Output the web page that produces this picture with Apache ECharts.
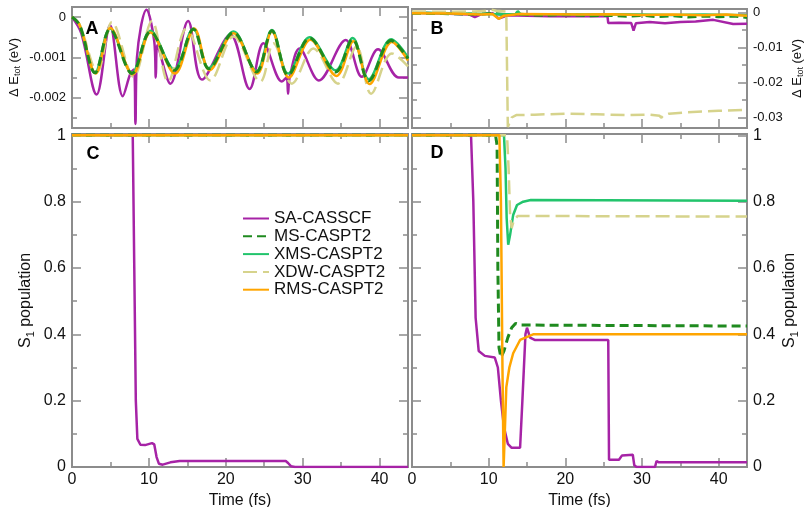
<!DOCTYPE html>
<html lang="en">
<head>
<meta charset="UTF-8">
<title>S1 population</title>
<script src="https://cdn.jsdelivr.net/npm/echarts@6/dist/echarts.min.js"></script>
<style>
    html, body { margin: 0; padding: 0; background: #fff; }
    #main { width: 804px; height: 507px; }
</style>
</head>
<body>
<div id="main"></div>
<script>
// methods, in legend order
var methods = ['SA-CASSCF', 'MS-CASPT2', 'XMS-CASPT2', 'XDW-CASPT2', 'RMS-CASPT2'];

// ticks
var tMax = 43.7;
var timeTicks = [0, 10, 20, 30, 40];
var timeMinor = [5, 15, 25, 35];
var eTicksA = [0, -0.001, -0.002];
var eMinorA = [-0.0005, -0.0015, -0.0025];
var eTicksB = [0, -0.01, -0.02, -0.03];
var eMinorB = [-0.005, -0.015, -0.025];
var popTicks = [0, 0.2, 0.4, 0.6, 0.8, 1];
var popMinor = [0.1, 0.3, 0.5, 0.7, 0.9];

// A: energy deviation (eV) vs time (fs)
var saA = [[0,0],[1.2,-0.0004],[3.2,-0.00192],[4.95,-0.0002],[6.6,-0.00196],[7.6,-0.0014],[8.05,-0.0013],[8.25,-0.00265],[8.45,-0.001],[9.7,0.00018],[10.7,-0.0006],[10.9,-0.0015],[11.1,-0.0007],[12.8,-0.00165],[15.1,-0.0001],[16.9,-0.00155],[20.6,-0.00044],[23.1,-0.00178],[24.9,-0.00065],[27.3,-0.0016],[27.9,-0.0015],[28.1,-0.0019],[28.3,-0.0015],[29.6,-0.00078],[32.1,-0.00157],[35.6,-0.00057],[37.7,-0.00148],[39.8,-0.0008],[42.5,-0.0015],[43.7,-0.0015]];
var msA = [[0,0],[1.0,-0.0002],[3.0,-0.00138],[4.95,-0.0003],[7.8,-0.0014],[10.2,-0.00036],[13.3,-0.00132],[15.8,-0.0003],[17.8,-0.00128],[21.0,-0.00038],[24.0,-0.00136],[26.0,-0.00034],[28.1,-0.00144],[30.9,-0.00052],[34.3,-0.00136],[36.5,-0.00055],[38.6,-0.00158],[41.5,-0.00058],[43.7,-0.00103]];
var xmsA = [[0,0],[1.0,-0.0002],[3.0,-0.00138],[4.95,-0.00028],[7.8,-0.00138],[10.2,-0.00034],[13.3,-0.0013],[15.8,-0.00028],[17.8,-0.00126],[21.0,-0.00036],[24.0,-0.00134],[26.0,-0.00032],[28.1,-0.0014],[30.9,-0.0005],[34.3,-0.00132],[36.5,-0.00052],[38.6,-0.00154],[41.5,-0.00055],[43.7,-0.001]];
var xdwA = [[0,0],[1.0,-0.0002],[3.3,-0.00135],[5.2,-0.00012],[8.0,-0.00148],[10.4,-0.0001],[12.5,-0.0016],[14.9,-0.00028],[18.0,-0.00157],[21.0,-0.00048],[24.5,-0.0016],[26.2,-0.00065],[28.6,-0.00165],[31.4,-0.00078],[34.6,-0.00165],[37.0,-0.00073],[38.9,-0.0019],[41.6,-0.0009],[43.7,-0.00122]];
var rmsA = [[0,0],[1.0,-0.0002],[3.1,-0.0014],[5.0,-0.00027],[7.9,-0.00142],[10.2,-0.00038],[13.4,-0.0014],[15.9,-0.00028],[17.9,-0.00132],[21.0,-0.0004],[24.1,-0.0014],[26.0,-0.00036],[28.2,-0.0015],[31.0,-0.00056],[34.4,-0.00146],[36.6,-0.0006],[38.7,-0.00166],[41.6,-0.00062],[43.7,-0.00108]];

// B
var saB = [[0,-0.0001],[4,-0.0003],[7.5,-0.0006],[8.2,-0.0013],[9,-0.0005],[10.5,-0.0002],[11.3,-0.0017],[12.5,-0.0008],[15,-0.0009],[18,-0.0011],[21,-0.001],[24,-0.0011],[25.5,-0.0011],[25.6,-0.003],[27,-0.0029],[28.6,-0.003],[28.9,-0.0052],[29.2,-0.0031],[31,-0.0027],[33,-0.0031],[35,-0.0027],[37,-0.0026],[39.3,-0.0021],[41.9,-0.0033],[43.7,-0.0032]];
var msB = [[0,-0.0002],[4,-0.0003],[8,-0.0005],[10.5,-0.0003],[12,-0.0006],[13.6,-0.0005],[13.8,0.0005],[14.1,-0.0005],[17,-0.0008],[20,-0.0006],[23,-0.0009],[26,-0.0008],[28,-0.0011],[30,-0.0008],[32,-0.0012],[34,-0.0009],[36,-0.0013],[38,-0.001],[40,-0.0012],[42,-0.001],[43.7,-0.0014]];
var xmsB = [[0,-0.0001],[5,-0.0002],[10,-0.0004],[12,-0.0005],[13.6,-0.0004],[13.8,0.0004],[14.1,-0.0004],[18,-0.0005],[22,-0.0006],[26,-0.0005],[30,-0.0006],[34,-0.0007],[38,-0.0006],[43.7,-0.0008]];
var xdwB = [[0,0.0003],[5,0.0002],[8,0.0003],[9.5,0.0004],[10.2,0.0009],[11,0.0005],[12.3,0.0003],[12.45,0.0002],[12.5,-0.0327],[13.0,-0.03],[13.6,-0.0293],[16,-0.0292],[20,-0.0289],[24,-0.0291],[28,-0.0293],[31,-0.0292],[32.3,-0.0295],[32.5,-0.0301],[32.8,-0.0294],[33.5,-0.0289],[36,-0.0285],[40,-0.0281],[43.7,-0.0278]];
var rmsB = [[0,-0.0002],[5,-0.0003],[9,-0.0006],[10.5,-0.0004],[11.3,-0.0018],[12,-0.0009],[14,-0.0004],[18,-0.0005],[22,-0.0006],[26,-0.0005],[30,-0.0007],[34,-0.0006],[38,-0.0008],[41,-0.0006],[43.7,-0.0009]];

// C: S1 population
var saC = [[0,1],[7.9,1],[8.1,0.6],[8.3,0.2],[8.5,0.085],[8.9,0.067],[9.5,0.066],[10.4,0.072],[10.7,0.068],[11.0,0.03],[11.3,0.01],[11.8,0.007],[12.8,0.014],[14,0.018],[27.8,0.018],[28.1,0.012],[28.5,0.002],[29,0],[43.7,0]];
var msC = [[0,1],[43.7,1]];
var xmsC = [[0,1],[43.7,1]];
var xdwC = [[0,1],[43.7,1]];
var rmsC = [[0,1],[43.7,1]];

// D
var saD = [[0,1],[7.7,1],[8.0,0.8],[8.3,0.45],[8.7,0.35],[9.5,0.335],[10.8,0.33],[11.2,0.3],[11.6,0.2],[12.0,0.12],[12.5,0.07],[13.0,0.058],[14.1,0.058],[14.4,0.2],[14.8,0.4],[15.0,0.42],[15.4,0.39],[16,0.383],[25.6,0.383],[25.7,0.022],[27.0,0.022],[27.4,0.035],[28.8,0.037],[29.0,0.005],[29.3,0],[31.7,0],[31.9,0.018],[32.2,0.014],[43.7,0.014]];
var msD = [[0,1],[10.9,1],[11.1,0.97],[11.2,0.6],[11.35,0.36],[11.6,0.33],[12.0,0.35],[12.5,0.39],[13.0,0.42],[13.5,0.433],[14.2,0.428],[43.7,0.425]];
var xmsD = [[0,1],[12.0,1],[12.2,0.9],[12.35,0.75],[12.55,0.67],[12.8,0.7],[13.2,0.76],[13.7,0.79],[14.5,0.8],[15.5,0.805],[43.7,0.803]];
var xdwD = [[0,1],[12.4,1],[12.6,0.9],[12.8,0.76],[13.0,0.72],[13.3,0.745],[13.8,0.757],[43.7,0.755]];
var rmsD = [[0,1],[11.4,1],[11.6,0.8],[11.8,0.3],[11.95,0],[12.1,0.1],[12.3,0.24],[12.7,0.3],[13.2,0.343],[14.1,0.383],[15.8,0.4],[43.7,0.4]];

(function () {
    var myChart = echarts.init(document.getElementById('main'), null, {renderer: 'canvas'});
    var gray = '#8c8c8c';
    var ink = '#111';
    var font = '"Liberation Sans", Arial, Helvetica, sans-serif';

    var styles = [
        {color: '#a623a6', width: 2.5, type: 'solid'},
        {color: '#1f8a1f', width: 3, type: [9, 5]},
        {color: '#22c46c', width: 2.5, type: 'solid'},
        {color: '#d6d38c', width: 2.5, type: [14, 6]},
        {color: '#ffa500', width: 2.5, type: 'solid'}
    ];

    var fmtA = function (v) { return v === 0 ? '0' : v.toFixed(3); };
    var fmtB = function (v) { return v === 0 ? '0' : v.toFixed(2); };
    var fmtP = function (v) { return String(+v.toFixed(1)); };

    var eName = {
        name: '{a|\u0394 E}{s|tot}{a| (eV)}',
        nameLocation: 'middle', nameRotate: 90,
        nameTextStyle: {
            color: ink, fontFamily: font,
            rich: {
                a: {fontSize: 13, lineHeight: 16, fontFamily: font, color: ink},
                s: {fontSize: 9, lineHeight: 9, verticalAlign: 'bottom', fontFamily: font, color: ink}
            }
        }
    };
    var pName = {
        name: '{a|S}{s|1}{a| population}',
        nameLocation: 'middle', nameRotate: 90,
        nameTextStyle: {
            color: ink, fontFamily: font,
            rich: {
                a: {fontSize: 16, lineHeight: 20, fontFamily: font, color: ink},
                s: {fontSize: 11, lineHeight: 11, verticalAlign: 'bottom', fontFamily: font, color: ink}
            }
        }
    };
    var tName = {
        name: 'Time (fs)', nameLocation: 'middle', nameGap: 22,
        nameTextStyle: {fontSize: 16, color: ink, fontFamily: font}
    };

    var panels = [
        {box: {left: 72, top: 7, width: 336, height: 121}, yMin: -0.00275, yMax: 0.00025,
         yMajor: eTicksA, yMinor: eMinorA, side: 'left', ylab: {fontSize: 13, margin: 6, formatter: fmtA},
         yname: Object.assign({nameGap: 50}, eName), xlab: null, data: [saA, msA, xmsA, xdwA, rmsA], smooth: 0.35},
        {box: {left: 412, top: 9, width: 335, height: 119}, yMin: -0.033, yMax: 0.001,
         yMajor: eTicksB, yMinor: eMinorB, side: 'right', ylab: {fontSize: 13, margin: 6, formatter: fmtB},
         yname: Object.assign({nameGap: 42}, eName), xlab: null, data: [saB, msB, xmsB, xdwB, rmsB], smooth: false},
        {box: {left: 72, top: 134, width: 336, height: 333}, yMin: 0, yMax: 1.004,
         yMajor: popTicks, yMinor: popMinor, side: 'left', ylab: {fontSize: 16, margin: 6, formatter: fmtP},
         yname: Object.assign({nameGap: 36}, pName), xlab: {fontSize: 16, margin: 5}, data: [saC, msC, xmsC, xdwC, rmsC], smooth: false},
        {box: {left: 412, top: 134, width: 335, height: 333}, yMin: 0, yMax: 1.004,
         yMajor: popTicks, yMinor: popMinor, side: 'right', ylab: {fontSize: 16, margin: 6, formatter: fmtP},
         yname: Object.assign({nameGap: 33}, pName), xlab: {fontSize: 16, margin: 5}, data: [saD, msD, xmsD, xdwD, rmsD], smooth: false}
    ];

    function makeAxis(g, pos, min, max, vals, len, label, name) {
        var ax = {
            type: 'value', gridIndex: g, position: pos, min: min, max: max,
            axisLine: {show: false, onZero: false},
            splitLine: {show: false},
            axisTick: {show: true, inside: true, length: len, customValues: vals, lineStyle: {color: gray, width: 1.5}},
            axisLabel: {show: false}
        };
        if (label) {
            ax.axisLabel = Object.assign({show: true, customValues: vals, color: ink, fontFamily: font}, label);
        }
        if (name) Object.assign(ax, name);
        return ax;
    }

    var grids = [], xAxes = [], yAxes = [], series = [];
    panels.forEach(function (p, g) {
        grids.push(Object.assign({show: true, borderColor: gray, borderWidth: 2, containLabel: false, outerBoundsMode: 'none'}, p.box));
        var other = p.side === 'left' ? 'right' : 'left';
        xAxes.push(makeAxis(g, 'bottom', 0, tMax, timeTicks, 9, p.xlab, p.xlab ? tName : null));
        xAxes.push(makeAxis(g, 'bottom', 0, tMax, timeMinor, 5));
        xAxes.push(makeAxis(g, 'top', 0, tMax, timeTicks, 9));
        xAxes.push(makeAxis(g, 'top', 0, tMax, timeMinor, 5));
        yAxes.push(makeAxis(g, p.side, p.yMin, p.yMax, p.yMajor, 9, p.ylab, p.yname));
        yAxes.push(makeAxis(g, p.side, p.yMin, p.yMax, p.yMinor, 5));
        yAxes.push(makeAxis(g, other, p.yMin, p.yMax, p.yMajor, 9));
        yAxes.push(makeAxis(g, other, p.yMin, p.yMax, p.yMinor, 5));

        p.data.forEach(function (d, m) {
            series.push({
                name: methods[m],
                type: 'line',
                xAxisIndex: g * 4,
                yAxisIndex: g * 4,
                data: d,
                symbol: 'none',
                showSymbol: false,
                smooth: p.smooth,
                color: styles[m].color,
                lineStyle: styles[m],
                z: (g === 0 && m === 1) ? 4 : 2
            });
        });
    });

    var letterStyle = function (t) {
        return {text: t, fontSize: 18, fontWeight: 'bold', fontFamily: font, fill: '#000', align: 'center', verticalAlign: 'middle'};
    };

    var option = {
        backgroundColor: '#fff',
        animation: false,
        grid: grids,
        xAxis: xAxes,
        yAxis: yAxes,
        legend: {
            data: methods,
            orient: 'vertical',
            left: 237,
            top: 205,
            itemWidth: 26,
            itemHeight: 14,
            itemGap: 0.8,
            selectedMode: false,
            itemStyle: {opacity: 0},
            textStyle: {fontSize: 17, color: ink, fontFamily: font}
        },
        graphic: [
            {type: 'text', x: 92, y: 29, style: letterStyle('A')},
            {type: 'text', x: 437, y: 29, style: letterStyle('B')},
            {type: 'text', x: 93, y: 154, style: letterStyle('C')},
            {type: 'text', x: 437, y: 153, style: letterStyle('D')}
        ],
        series: series
    };

    myChart.setOption(option);
    window.addEventListener('resize', function () {
        myChart.resize();
    });
})();
</script>
</body>
</html>
